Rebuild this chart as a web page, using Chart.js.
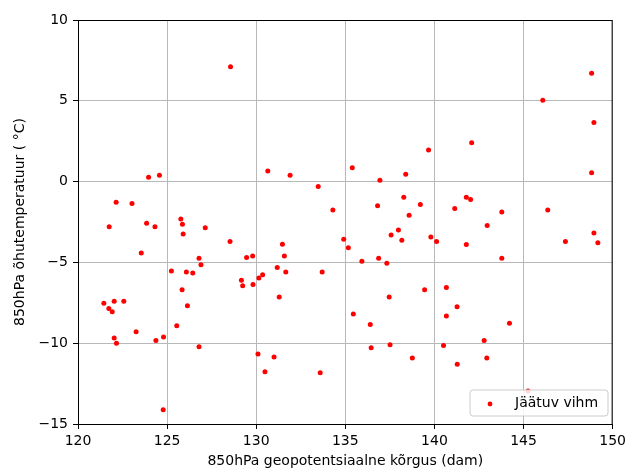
<!DOCTYPE html>
<html>
<head>
<meta charset="utf-8">
<script src="https://cdn.jsdelivr.net/npm/chart.js@4"></script>
<style>
	html, body { margin: 0; padding: 0; background: #fff; }
	#wrap { width: 630px; height: 468px; }
</style>
</head>
<body>
<div id="wrap"><canvas id="chart" width="630" height="468"></canvas></div>
<script>
// 850hPa kõrgus (dam) ja temperatuur (°C) – loetud pildilt
const heights = [
	128.56, 123.96, 124.57, 122.14, 123.03, 125.77, 123.85, 125.86, 121.75, 124.32,
	125.9, 127.14, 128.53, 123.55, 126.79, 126.9, 129.46, 129.8, 125.24, 126.08,
	126.44, 129.17, 129.24, 129.82, 130.15, 125.84, 121.45, 122.03, 122.57, 121.73,
	121.92, 126.14, 125.54, 123.26, 122.03, 122.16, 124.37, 124.8, 126.79, 130.1,
	124.78, 131.47, 131.58, 131.18, 131.66, 130.36, 133.7, 131.29, 131.0, 130.49,
	133.59, 134.91, 135.17, 135.93, 136.87, 137.33, 137.57, 137.98, 138.17, 139.8,
	140.12, 139.45, 137.46, 135.45, 136.4, 136.45, 137.51, 138.76, 130.65, 131.9,
	133.48, 134.3, 135.39, 136.94, 138.39, 139.67, 136.81, 138.28, 139.21, 138.58,
	148.82, 146.08, 148.95, 142.09, 148.82, 141.79, 142.03, 141.14, 143.78, 146.36,
	142.96, 141.79, 143.78, 147.35, 148.95, 149.17, 140.67, 141.27, 140.67, 144.21,
	142.79, 140.51, 142.94, 141.28, 145.25
];
const temps = [
	7.1, 0.27, 0.39, -1.28, -1.36, -2.31, -2.58, -2.64, -2.79, -2.79,
	-3.24, -2.85, -3.7, -4.42, -4.75, -5.14, -4.69, -4.6, -5.53, -5.59,
	-5.65, -6.11, -6.44, -6.36, -5.96, -6.69, -7.53, -7.41, -7.41, -7.86,
	-8.05, -7.68, -8.92, -9.29, -9.68, -10.01, -9.83, -9.62, -10.22, -10.67,
	-14.12, -3.88, -4.6, -5.32, -5.59, -5.76, -5.59, -7.14, -10.86, -11.76,
	-11.83, -3.57, -4.09, -4.93, -4.75, -5.06, -3.3, -2.99, -3.63, -3.43,
	-3.7, -6.69, -7.14, -8.19, -8.84, -10.28, -10.09, -10.92, 0.66, 0.39,
	-0.31, -1.75, 0.85, 0.08, 0.45, 1.96, -1.49, -0.97, -1.42, -2.09,
	6.71, 5.03, 3.65, 2.41, 0.54, -0.97, -1.1, -1.67, -1.88, -1.75,
	-2.72, -3.9, -4.75, -3.7, -3.18, -3.78, -6.56, -7.74, -8.32, -8.77,
	-9.83, -10.15, -10.92, -11.31, -12.96
];
const seriesLabel = "Jäätuv vihm";
const xTicks = [120, 125, 130, 135, 140, 145, 150];
const yTicks = [-15, -10, -5, 0, 5, 10];
const xTitle = "850hPa geopotentsiaalne kõrgus (dam)";
const yTitle = "850hPa õhutemperatuur ( °C)";

const FONT = "'DejaVu Sans', sans-serif";
const minus = (v) => String(v).replace("-", "\u2212");

// ülemine ja parem raam + legend graafiku sees
const framePlugin = {
	id: "frame",
	afterDatasetsDraw(chart) {
		const { ctx, chartArea: a } = chart;
		ctx.save();
		ctx.strokeStyle = "#000";
		ctx.lineWidth = 1;
		ctx.strokeRect(a.left + 0.5, a.top + 0.5, a.right - a.left - 1, a.bottom - a.top);

		// legend
		const x = 470, y = 390, w = 138, h = 26, r = 3;
		ctx.beginPath();
		ctx.moveTo(x + r, y);
		ctx.arcTo(x + w, y, x + w, y + h, r);
		ctx.arcTo(x + w, y + h, x, y + h, r);
		ctx.arcTo(x, y + h, x, y, r);
		ctx.arcTo(x, y, x + w, y, r);
		ctx.closePath();
		ctx.fillStyle = "rgba(255,255,255,0.85)";
		ctx.fill();
		ctx.strokeStyle = "#cccccc";
		ctx.stroke();
		ctx.beginPath();
		ctx.arc(490, 404, 2.4, 0, Math.PI * 2);
		ctx.fillStyle = "red";
		ctx.fill();
		ctx.fillStyle = "#000";
		ctx.font = "14px " + FONT;
		ctx.textBaseline = "middle";
		ctx.fillText(chart.data.datasets[0].label, 515, 403);
		ctx.restore();
	},
};

new Chart(document.getElementById("chart"), {
	type: "scatter",
	data: {
		datasets: [
			{
				label: seriesLabel,
				data: heights.map((h, i) => ({ x: h, y: temps[i] })),
				backgroundColor: "red",
				borderWidth: 0,
				pointRadius: 2.5,
			},
		],
	},
	options: {
		responsive: false,
		animation: false,
		layout: { padding: { top: 20, right: 14, left: 0, bottom: 0 } },
		plugins: { legend: { display: false }, tooltip: { enabled: false } },
		scales: {
			x: {
				type: "linear",
				min: 120,
				max: 150,
				afterBuildTicks: (s) => { s.ticks = xTicks.map((v) => ({ value: v })); },
				afterFit: (s) => { s.height = 44; },
				grid: { color: "#b8b8b8", lineWidth: 1, tickColor: "#000", tickLength: 5 },
				border: { display: true, color: "#000", width: 1 },
				ticks: { color: "#000", padding: 4, font: { family: FONT, size: 14 }, callback: minus },
				title: { display: true, text: xTitle, color: "#000", padding: { top: 0, bottom: 0 }, font: { family: FONT, size: 14, lineHeight: 0.9 } },
			},
			y: {
				type: "linear",
				min: -15,
				max: 10,
				afterBuildTicks: (s) => { s.ticks = yTicks.map((v) => ({ value: v })); },
				afterFit: (s) => { s.width = 78; },
				grid: { color: "#b8b8b8", lineWidth: 1, tickColor: "#000", tickLength: 5 },
				border: { display: true, color: "#000", width: 1 },
				ticks: { color: "#000", padding: 5, font: { family: FONT, size: 14 }, callback: minus },
				title: { display: true, text: yTitle, color: "#000", padding: { top: 12, bottom: 0 }, font: { family: FONT, size: 14 } },
			},
		},
	},
	plugins: [framePlugin],
});
</script>
</body>
</html>
